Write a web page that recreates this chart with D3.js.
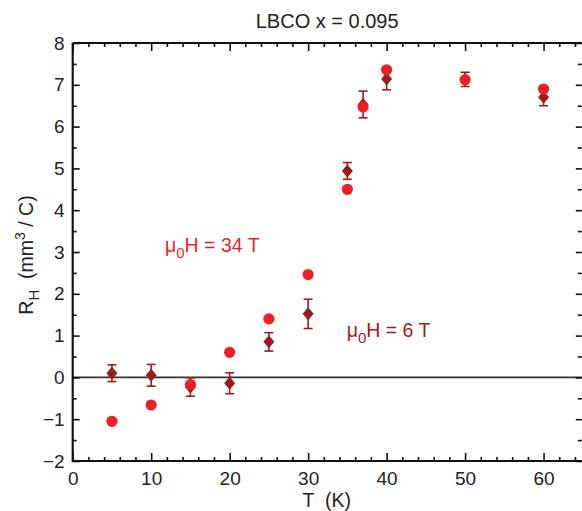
<!DOCTYPE html>
<html><head><meta charset="utf-8">
<script src="https://cdn.jsdelivr.net/npm/d3@7"></script>
<style>body{margin:0;background:#fff}svg{display:block}text{font-family:"Liberation Sans",Arial,Helvetica,sans-serif}</style>
</head><body><svg id="c" width="582" height="511"></svg>
<script>
// Data
const temps34 = [5, 10, 15, 20, 25, 30, 35, 37, 40, 50, 60];
const rh34 = [-1.05, -0.66, -0.17, 0.60, 1.40, 2.46, 4.50, 6.47, 7.36, 7.12, 6.90];
const temps6 = [5, 10, 15, 20, 25, 30, 35, 37, 40, 50, 60];
const rh6 = [0.10, 0.05, -0.23, -0.14, 0.85, 1.52, 4.94, 6.53, 7.14, 7.13, 6.70];
const err6 = [0.20, 0.26, 0.22, 0.25, 0.22, 0.35, 0.20, 0.32, 0.26, 0.17, 0.20];
const xTicks = [0, 10, 20, 30, 40, 50, 60];
const yTicks = [-2, -1, 0, 1, 2, 3, 4, 5, 6, 7, 8];
const title = "LBCO x = 0.095";

const red = "#ec1f26", dark = "#9b1b21";
const svg = d3.select("#c");
const L = 72.7, R = 582.8, T = 43, B = 461;
const x = d3.scaleLinear().domain([0, 65]).range([L, R]);
const y = d3.scaleLinear().domain([-2, 8]).range([B, T]);
const fs = 19;

// zero line
svg.append("line").attr("x1", L).attr("x2", R).attr("y1", y(0)).attr("y2", y(0))
  .attr("stroke", "#333").attr("stroke-width", 1.6);

function styleAxis(g) {
  g.select(".domain").remove();
  g.selectAll("line").attr("stroke", "#111").attr("stroke-width", 1.6);
  g.selectAll("text").attr("font-size", fs).attr("fill", "#222")
    .attr("font-family", '"Liberation Sans",Arial,sans-serif');
}
const xMinor = d3.range(0, 65.1, 2).filter(v => v % 10 !== 0);
const yMinor = d3.range(-2, 8.01, 0.5).filter(v => Math.abs(v % 1) > 0.1);

// bottom
svg.append("g").attr("transform", `translate(0,${B})`)
  .call(d3.axisBottom(x).tickValues(xTicks).tickSize(-8).tickPadding(10.5).tickFormat(d3.format("d")))
  .call(styleAxis);
svg.append("g").attr("transform", `translate(0,${B})`)
  .call(d3.axisBottom(x).tickValues(xMinor).tickSize(-4).tickFormat(""))
  .call(styleAxis);
// top
svg.append("g").attr("transform", `translate(0,${T})`)
  .call(d3.axisTop(x).tickValues(xTicks).tickSize(-8).tickFormat(""))
  .call(styleAxis);
svg.append("g").attr("transform", `translate(0,${T})`)
  .call(d3.axisTop(x).tickValues(xMinor).tickSize(-4).tickFormat(""))
  .call(styleAxis);
// left
svg.append("g").attr("transform", `translate(${L},0)`)
  .call(d3.axisLeft(y).tickValues(yTicks).tickSize(-7).tickPadding(8).tickFormat(d3.format("d")))
  .call(styleAxis);
svg.append("g").attr("transform", `translate(${L},0)`)
  .call(d3.axisLeft(y).tickValues(yMinor).tickSize(-4).tickFormat(""))
  .call(styleAxis);
// right
svg.append("g").attr("transform", `translate(${R - 1},0)`)
  .call(d3.axisRight(y).tickValues(yTicks).tickSize(-6).tickFormat(""))
  .call(styleAxis);
svg.append("g").attr("transform", `translate(${R - 1},0)`)
  .call(d3.axisRight(y).tickValues(yMinor).tickSize(-4).tickFormat(""))
  .call(styleAxis);

// frame
svg.append("path").attr("d", `M${L},${T}H${R}M${L},${T}V${B}H${R}`)
  .attr("fill", "none").attr("stroke", "#111").attr("stroke-width", 2.2);

// 6 T series: error bars + diamonds
const d6 = temps6.map((t, i) => ({t, v: rh6[i], e: err6[i]}));
const eg = svg.append("g").attr("stroke", dark).attr("stroke-width", 1.6);
d6.forEach(d => {
  const cx = x(d.t), y1 = y(d.v + d.e), y2 = y(d.v - d.e);
  eg.append("line").attr("x1", cx).attr("x2", cx).attr("y1", y1).attr("y2", y2);
  eg.append("line").attr("x1", cx - 4.5).attr("x2", cx + 4.5).attr("y1", y1).attr("y2", y1);
  eg.append("line").attr("x1", cx - 4.5).attr("x2", cx + 4.5).attr("y1", y2).attr("y2", y2);
});
svg.append("g").selectAll("path").data(d6).join("path")
  .attr("d", d => { const cx = x(d.t), cy = y(d.v); return `M${cx},${cy - 6.5}L${cx + 5.5},${cy}L${cx},${cy + 6.5}L${cx - 5.5},${cy}Z`; })
  .attr("fill", dark);

// 34 T series: circles
svg.append("g").selectAll("circle").data(temps34.map((t, i) => ({t, v: rh34[i]}))).join("circle")
  .attr("cx", d => x(d.t)).attr("cy", d => y(d.v)).attr("r", 5.6).attr("fill", red);

// title
svg.append("text").attr("x", 327.2).attr("y", 27.7).attr("text-anchor", "middle")
  .attr("font-size", 20).attr("fill", "#222").text(title);

// x axis label
svg.append("text").attr("x", 326.7).attr("y", 507).attr("text-anchor", "middle")
  .attr("font-size", 19.5).attr("fill", "#222").attr("xml:space", "preserve").text("T  (K)");

// y axis label
const yl = svg.append("text").attr("transform", "translate(33,255) rotate(-90)")
  .attr("text-anchor", "middle").attr("font-size", 19.5).attr("fill", "#222").attr("xml:space", "preserve");
yl.append("tspan").text("R");
yl.append("tspan").attr("font-size", 15).attr("dy", 6).text("H");
yl.append("tspan").attr("dy", -6).text("  (mm");
yl.append("tspan").attr("font-size", 14).attr("dy", -8.5).text("3");
yl.append("tspan").attr("dy", 8.5).text(" / C)");

// annotations
function ann(xp, yp, col, rest) {
  const t = svg.append("text").attr("x", xp).attr("y", yp).attr("font-size", 19.5).attr("fill", col);
  t.append("tspan").text("\u03bc");
  t.append("tspan").attr("font-size", 15).attr("dy", 6).text("0");
  t.append("tspan").attr("dy", -6).text(rest);
}
ann(165, 251.7, red, "H = 34 T");
ann(346.7, 336.7, dark, "H = 6 T");
</script></body></html>
